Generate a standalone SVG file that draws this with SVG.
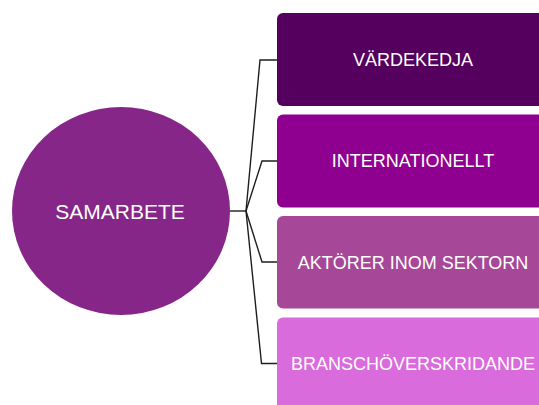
<svg xmlns="http://www.w3.org/2000/svg" width="539" height="405" viewBox="0 0 539 405">
  <style>
    .lbl { font-family: "Liberation Sans", Arial, sans-serif; fill: #ffffff; text-anchor: middle; dominant-baseline: central; }
    .box-text { font-size: 18px; }
    .hub-text { font-size: 21px; }
    .wire { fill: none; stroke: #1e1e1e; stroke-width: 1.4; }
  </style>
  <rect width="539" height="405" fill="#ffffff"/>

  <!-- connectors from the hub to each branch -->
  <g id="connectors">
    <path class="wire" d="M230,211 H246"/>
    <path class="wire" d="M246,211 L260,60 H277"/>
    <path class="wire" d="M246,211 L262,161 H277"/>
    <path class="wire" d="M246,211 L262,262 H277"/>
    <path class="wire" d="M246,211 L261.5,363.5 H277"/>
  </g>

  <g id="hub">
    <ellipse cx="121" cy="211" rx="109" ry="104" fill="#862689"/>
    <text class="lbl hub-text" x="120" y="211">SAMARBETE</text>
  </g>

  <g id="vardekedja">
    <rect x="277" y="13" width="274" height="93" rx="6" fill="#55005e"/>
    <text class="lbl box-text" x="413" y="59.5">VÄRDEKEDJA</text>
  </g>

  <g id="internationellt">
    <rect x="277" y="114.5" width="274" height="93" rx="6" fill="#8f0090"/>
    <text class="lbl box-text" x="413" y="161">INTERNATIONELLT</text>
  </g>

  <g id="aktorer">
    <rect x="277" y="216" width="274" height="92.5" rx="6" fill="#a64797"/>
    <text class="lbl box-text" x="413" y="262.5">AKTÖRER INOM SEKTORN</text>
  </g>

  <g id="branschoverskridande">
    <rect x="277" y="317.5" width="274" height="93" rx="6" fill="#da6bdc"/>
    <text class="lbl box-text" x="413" y="363.5">BRANSCHÖVERSKRIDANDE</text>
  </g>
</svg>
